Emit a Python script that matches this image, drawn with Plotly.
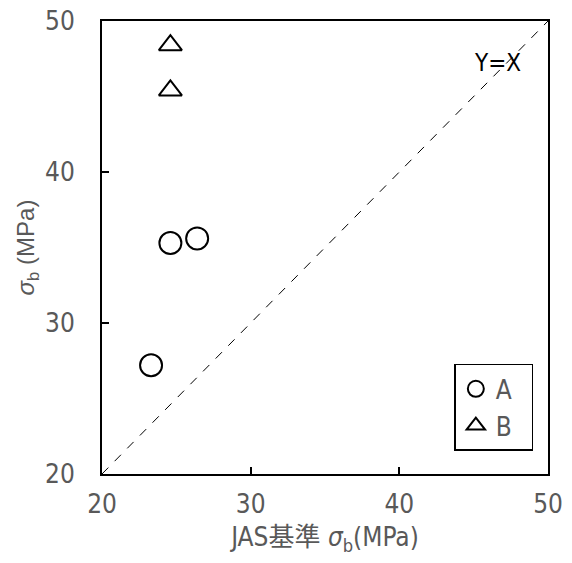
import plotly.graph_objects as go

# Data
a_x = [24.6, 26.4, 23.3]
a_y = [35.3, 35.6, 27.2]
b_x = [24.6, 24.6]
b_y = [48.4, 45.4]
ref_line = [20, 50]
x_ticks = [20, 30, 40, 50]
y_ticks = [20, 30, 40, 50]
series_names = ["A\u00a0\u00a0", "B\u00a0\u00a0"]

NARROW = "DejaVu Sans Condensed, Noto Sans CJK JP, sans-serif"
GRAY = "#595959"

fig = go.Figure()
fig.add_trace(go.Scatter(x=ref_line, y=ref_line, mode="lines",
                         line=dict(color="black", width=1, dash="dash"),
                         showlegend=False, hoverinfo="skip"))
fig.add_trace(go.Scatter(x=a_x, y=a_y, mode="markers", name=series_names[0],
                         marker=dict(symbol="circle-open", size=22, color="black",
                                     line=dict(width=2, color="black"))))
fig.add_trace(go.Scatter(x=b_x, y=b_y, mode="markers", name=series_names[1],
                         marker=dict(symbol="triangle-up-open", size=20, color="black",
                                     line=dict(width=2, color="black"))))

fig.add_annotation(x=46.6, y=47.2, text="Y=X", showarrow=False,
                   font=dict(family=NARROW, size=24, color="black"))

axis_common = dict(showgrid=False, zeroline=False, showline=True, linecolor="black",
                   linewidth=2, mirror=True, ticks="inside", ticklen=7, tickwidth=2,
                   tickcolor="black", ticklabeloverflow="allow", automargin=False,
                   tickfont=dict(family=NARROW, size=26, color=GRAY))

fig.update_xaxes(range=[20, 50], tickvals=x_ticks,
                 title=dict(text="JAS基準 <i>σ</i><sub>b</sub>(MPa)",
                            font=dict(family=NARROW, size=26, color=GRAY), standoff=10),
                 ticklabelstandoff=6, **axis_common)
fig.update_yaxes(range=[20, 50], tickvals=y_ticks,
                 title=dict(text="<i>σ</i><sub>b</sub> (MPa)",
                            font=dict(family="Liberation Sans, Arial, sans-serif", size=24, color=GRAY),
                            standoff=4),
                 ticklabelstandoff=20, **axis_common)

# page body has an 8px margin: shrink the figure so the plot area lands at the same pixels
fig.update_layout(
    width=564, height=555,
    margin=dict(l=94, r=24, t=13, b=89, autoexpand=False),
    plot_bgcolor="white", paper_bgcolor="white",
    legend=dict(x=0.79, y=0.243, xanchor="left", yanchor="top",
                bordercolor="black", borderwidth=1.5, bgcolor="white",
                font=dict(family=NARROW, size=26, color=GRAY),
                itemwidth=30, tracegroupgap=6),
)

fig.write_html("out.html")
